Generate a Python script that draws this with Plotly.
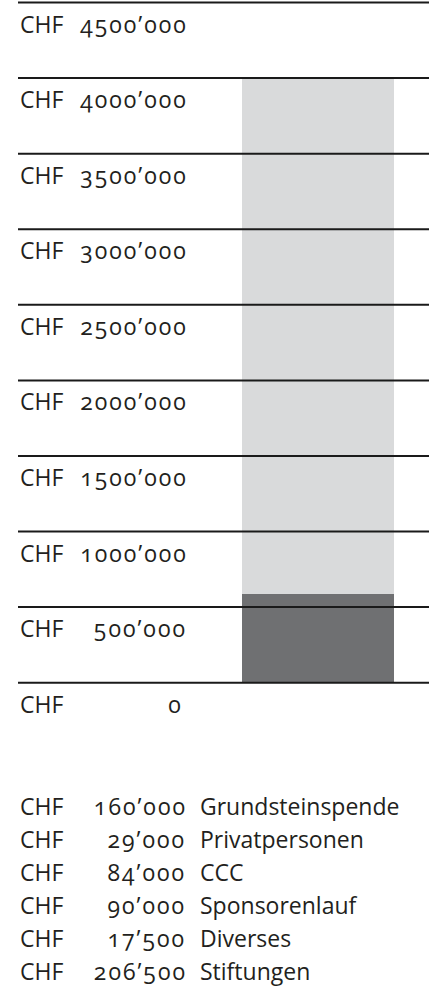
import plotly.graph_objects as go

# ---- data ----
goal_value = 4000000
tick_values = [0, 500000, 1000000, 1500000, 2000000, 2500000, 3000000, 3500000, 4000000, 4500000]
tick_labels = ["0", "500’000", "1000’000", "1500’000", "2000’000", "2500’000",
               "3000’000", "3500’000", "4000’000", "4500’000"]
donation_names = ["Grundsteinspende", "Privatpersonen", "CCC", "Sponsorenlauf", "Diverses", "Stiftungen"]
donation_values = [160000, 29000, 84000, 90000, 17500, 206500]
donation_labels = ["160’000", "29’000", "84’000", "90’000", "17’500", "206’500"]
currency = "CHF"

raised_total = sum(donation_values)

# ---- style ----
W, H = 429, 987
FONT = "Open Sans"
NUMFONT = "Open Sans, Lato"   # same face; family string only used as CSS hook for digit spacing
TXT = "#231f20"
LIGHT = "#d9dadb"
DARK = "#6f7072"
LINE = "#1a1a1a"
FS = 23

fig = go.Figure()
fig.add_trace(go.Bar(x=[0], y=[goal_value], width=1, marker=dict(color=LIGHT, line=dict(width=0)),
                     hoverinfo="skip", name="Ziel"))
fig.add_trace(go.Bar(x=[0], y=[raised_total], width=1, marker=dict(color=DARK, line=dict(width=0)),
                     hoverinfo="skip", name="Erreicht"))

shapes = []
annotations = []
x_chf = 18 / W
x_num = 184 / W
x_name = 198 / W
for v, lab in zip(tick_values, tick_labels):
    shapes.append(dict(type="line", xref="paper", yref="y", x0=x_chf, x1=1, y0=v, y1=v,
                       line=dict(color=LINE, width=2), layer="above"))
    annotations.append(dict(xref="paper", yref="y", x=x_chf, y=v, text=currency, showarrow=False,
                            xanchor="left", yanchor="middle", yshift=-21,
                            font=dict(family=FONT, size=FS, color=TXT)))
    annotations.append(dict(xref="paper", yref="y", x=x_num, y=v, text=lab, showarrow=False,
                            xanchor="right", yanchor="middle", yshift=-21,
                            font=dict(family=NUMFONT, size=FS, color=TXT)))

row0, row_step = 806, 33
for i, (name, lab) in enumerate(zip(donation_names, donation_labels)):
    yp = 1 - (row0 + i * row_step) / H
    for x, t, anc, fam in [(x_chf, currency, "left", FONT), (x_num, lab, "right", NUMFONT),
                           (x_name, name, "left", FONT)]:
        annotations.append(dict(xref="paper", yref="paper", x=x, y=yp, text=t, showarrow=False,
                                xanchor=anc, yanchor="middle",
                                font=dict(family=fam, size=FS, color=TXT)))

px_per_unit = 680.2 / 4500000
y_top = 4500000 + 2.5 / px_per_unit
y_bot = -(H - 682.7) / px_per_unit

fig.update_layout(
    width=W, height=H, margin=dict(l=0, r=0, t=0, b=0),
    paper_bgcolor="white", plot_bgcolor="white",
    barmode="overlay", bargap=0, showlegend=False,
    xaxis=dict(range=[-0.5 - 242 / 152, 0.5 + 35 / 152], visible=False, fixedrange=True),
    yaxis=dict(range=[y_bot, y_top], visible=False, fixedrange=True),
    shapes=shapes, annotations=annotations,
)

post = (
    "var s=document.createElement('style');"
    "s.textContent='body{margin:0 !important;} "
    "text{font-feature-settings:\"onum\" 1 !important;font-variant-numeric:oldstyle-nums !important;} "
    "text[style*=\"Lato\"]{letter-spacing:2px;}';"
    "document.head.appendChild(s);"
    "var gd=document.getElementById('{plot_id}');"
    "Plotly.newPlot(gd, gd.data, gd.layout, {displayModeBar:false});"
)
fig.write_html("out.html", post_script=post, config={"displayModeBar": False})
